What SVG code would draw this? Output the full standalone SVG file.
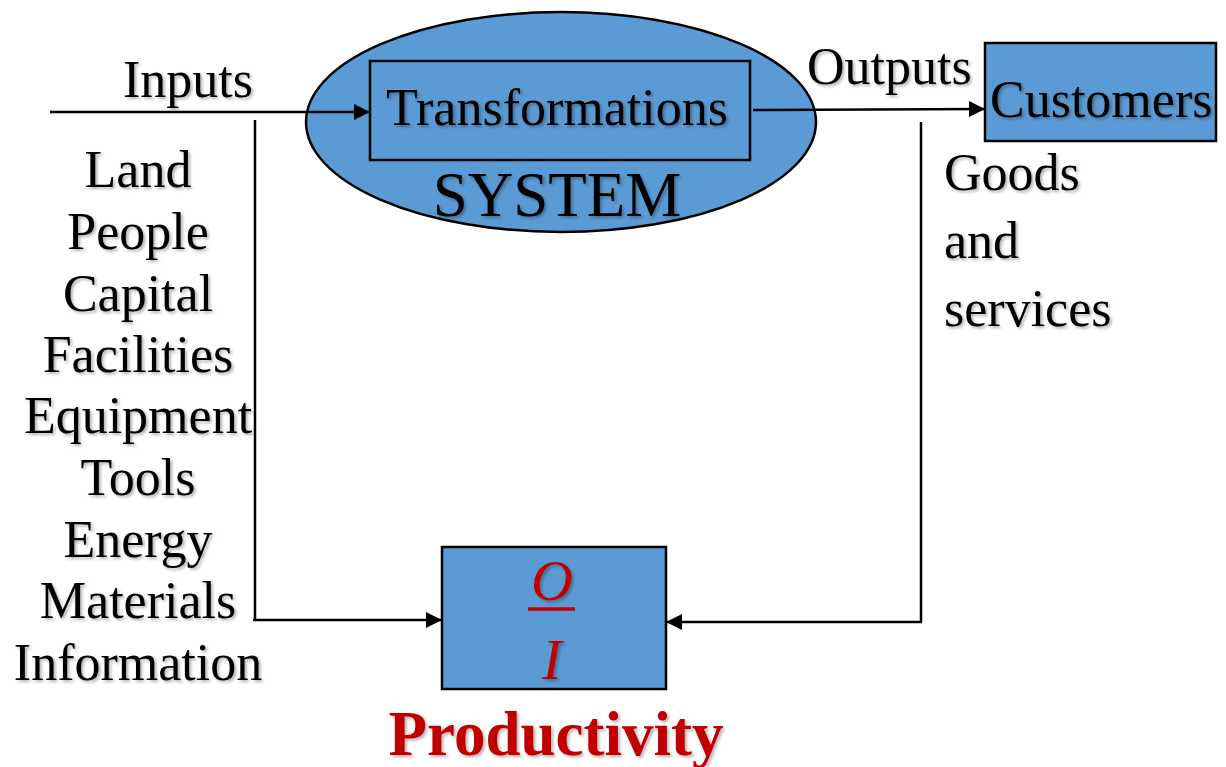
<svg xmlns="http://www.w3.org/2000/svg" width="1226" height="767" viewBox="0 0 1226 767">
<defs>
<style>
.t{font-family:"Liberation Serif","Times New Roman",serif;font-size:52px;fill:#000;filter:url(#sh)}
.c{text-anchor:middle}
.box{fill:#5B9BD5;stroke:#000;stroke-width:2.5}
.ln{stroke:#000;stroke-width:2.5;fill:none}
.red{fill:#C00000;font-style:italic}
</style>
<filter id="sh" x="-10%" y="-20%" width="130%" height="150%">
<feDropShadow dx="2" dy="2" stdDeviation="1.5" flood-color="#000" flood-opacity="0.3"/>
</filter>
<marker id="ah" markerUnits="userSpaceOnUse" markerWidth="18" markerHeight="16" refX="16" refY="8" orient="auto">
<path d="M0,0 L16,8 L0,16 Z" fill="#000"/>
</marker>
</defs>
<g id="system">
<ellipse class="box" cx="561" cy="122" rx="255" ry="110"/>
<text class="t c" x="557" y="216" style="font-size:63px">SYSTEM</text>
</g>
<g id="transformations">
<rect class="box" x="370" y="61" width="380" height="99"/>
<text class="t c" x="557" y="125">Transformations</text>
</g>
<g id="customers">
<rect class="box" x="985" y="43" width="231" height="98"/>
<text class="t" x="990" y="117">Customers</text>
</g>
<g id="productivity">
<rect class="box" x="442" y="547" width="224" height="142"/>
<text class="t c red" x="552" y="600" style="font-size:58px">O</text>
<line x1="528" y1="609" x2="575" y2="609" stroke="#C00000" stroke-width="3.5"/>
<text class="t c red" x="552" y="679" style="font-size:58px">I</text>
<text class="t c" x="556" y="755" style="font-size:63px;font-weight:bold;fill:#C00000">Productivity</text>
</g>
<g id="inputs-label">
<text class="t" x="123" y="97">Inputs</text>
<text class="t c" x="138" y="187">Land</text>
<text class="t c" x="138" y="249">People</text>
<text class="t c" x="138" y="311">Capital</text>
<text class="t c" x="138" y="372">Facilities</text>
<text class="t c" x="138" y="433">Equipment</text>
<text class="t c" x="138" y="495">Tools</text>
<text class="t c" x="138" y="557">Energy</text>
<text class="t c" x="138" y="618">Materials</text>
<text class="t c" x="138" y="680">Information</text>
</g>
<g id="outputs-label">
<text class="t" x="807" y="84">Outputs</text>
<text class="t" x="944" y="190">Goods</text>
<text class="t" x="944" y="258">and</text>
<text class="t" x="944" y="326">services</text>
</g>
<g id="connectors">
<line class="ln" x1="50" y1="112" x2="370" y2="112" marker-end="url(#ah)"/>
<line class="ln" x1="753" y1="110" x2="985" y2="109" marker-end="url(#ah)"/>
<line class="ln" x1="255" y1="120" x2="255" y2="620"/>
<line class="ln" x1="253" y1="620" x2="442" y2="620" marker-end="url(#ah)"/>
<line class="ln" x1="921" y1="122" x2="921" y2="622"/>
<line class="ln" x1="922" y1="622" x2="666" y2="622" marker-end="url(#ah)"/>
</g>
</svg>
